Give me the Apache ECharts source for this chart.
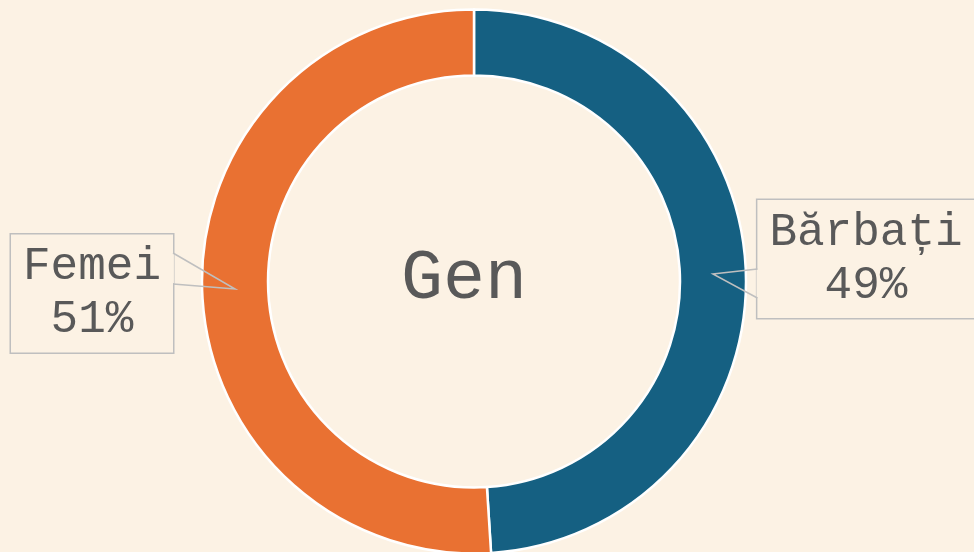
<!DOCTYPE html>
<html>
<head>
<meta charset="utf-8">
<script src="https://cdn.jsdelivr.net/npm/echarts@6/dist/echarts.min.js"></script>
<style>
html,body{margin:0;padding:0;background:#FCF2E4;}
#c{width:974px;height:552px;}
</style>
</head>
<body>
<div id="c"></div>
<script>
// ---- data ----
const categories = ['Bărbați', 'Femei'];
const values = [49, 51];
const colors = ['#156082', '#E97132'];
const centerTitle = 'Gen';

// ---- style ----
const BG = '#FCF2E4';
const TXT = '#595959';
const FONT = '"Courier New", "Liberation Mono", monospace';
const LABEL_FS = 46;
const PAD = [6, 12];
const LH = 53;
// label box centres (px) and wedge base offsets relative to the box centre
const labelPos = [[866, 259], [92, 293.5]];
const wedgeBase = [[10, 39], [-40.5, -9.5]];

const chart = echarts.init(document.getElementById('c'), null, {renderer: 'canvas'});

const data = categories.map((n, i) => ({name: n, value: values[i], itemStyle: {color: colors[i]}}));

chart.setOption({
  backgroundColor: BG,
  animation: false,
  series: [{
    type: 'pie',
    center: [474, 281.5],
    radius: [206, 272],
    startAngle: 90,
    clockwise: true,
    data: data,
    itemStyle: {borderColor: '#FFFFFF', borderWidth: 2.5},
    label: {
      show: true,
      position: 'inside',
      formatter: '{b}\n{c}%',
      fontFamily: FONT,
      fontSize: LABEL_FS,
      lineHeight: LH,
      color: TXT,
      align: 'center',
      overflow: 'none',
      backgroundColor: BG,
      borderColor: '#BFBFBF',
      borderWidth: 1.5,
      padding: PAD
    },
    labelLine: {show: false},
    labelLayout: function (p) {
      const pos = labelPos[p.dataIndex];
      return {x: pos[0], y: pos[1], align: 'center', verticalAlign: 'middle', rotate: 0};
    },
    emphasis: {disabled: true}
  }],
  graphic: []
});

// measure box widths
const cv = document.createElement('canvas').getContext('2d');
cv.font = LABEL_FS + 'px ' + FONT;
function boxHalfWidth(i) {
  const lines = [categories[i], values[i] + '%'];
  const w = Math.max.apply(null, lines.map(l => cv.measureText(l).width));
  return w / 2 + PAD[1];
}

// callout wedges computed from the pie layout
const sData = chart.getModel().getSeriesByIndex(0).getData();
const graphics = [];
categories.forEach((c, i) => {
  const L = sData.getItemLayout(i);
  const mid = (L.startAngle + L.endAngle) / 2;
  const rm = (L.r + L.r0) / 2;
  const ax = L.cx + rm * Math.cos(mid);
  const ay = L.cy + rm * Math.sin(mid);
  const pos = labelPos[i];
  const hw = boxHalfWidth(i);
  const ex = ax > pos[0] ? pos[0] + hw : pos[0] - hw;
  const inward = ax > pos[0] ? -3 : 3;
  const y1 = pos[1] + wedgeBase[i][0];
  const y2 = pos[1] + wedgeBase[i][1];
  graphics.push({
    type: 'polygon', z: 100, silent: true,
    shape: {points: [[ex + inward, y1 + 0.8], [ex - inward * 0.3, y1 + 0.8], [ex - inward * 0.3, y2 - 0.8], [ex + inward, y2 - 0.8]]},
    style: {fill: BG}
  });
  graphics.push({
    type: 'polyline', z: 101, silent: true,
    shape: {points: [[ex, y1], [ax, ay], [ex, y2]]},
    style: {stroke: '#BFBFBF', lineWidth: 1.5, fill: null}
  });
});
graphics.push({
  type: 'text', z: 100, silent: true,
  x: 464, y: 279,
  style: {text: centerTitle, font: '70px ' + FONT, fill: TXT, align: 'center', verticalAlign: 'middle'}
});
chart.setOption({graphic: graphics});
</script>
</body>
</html>
